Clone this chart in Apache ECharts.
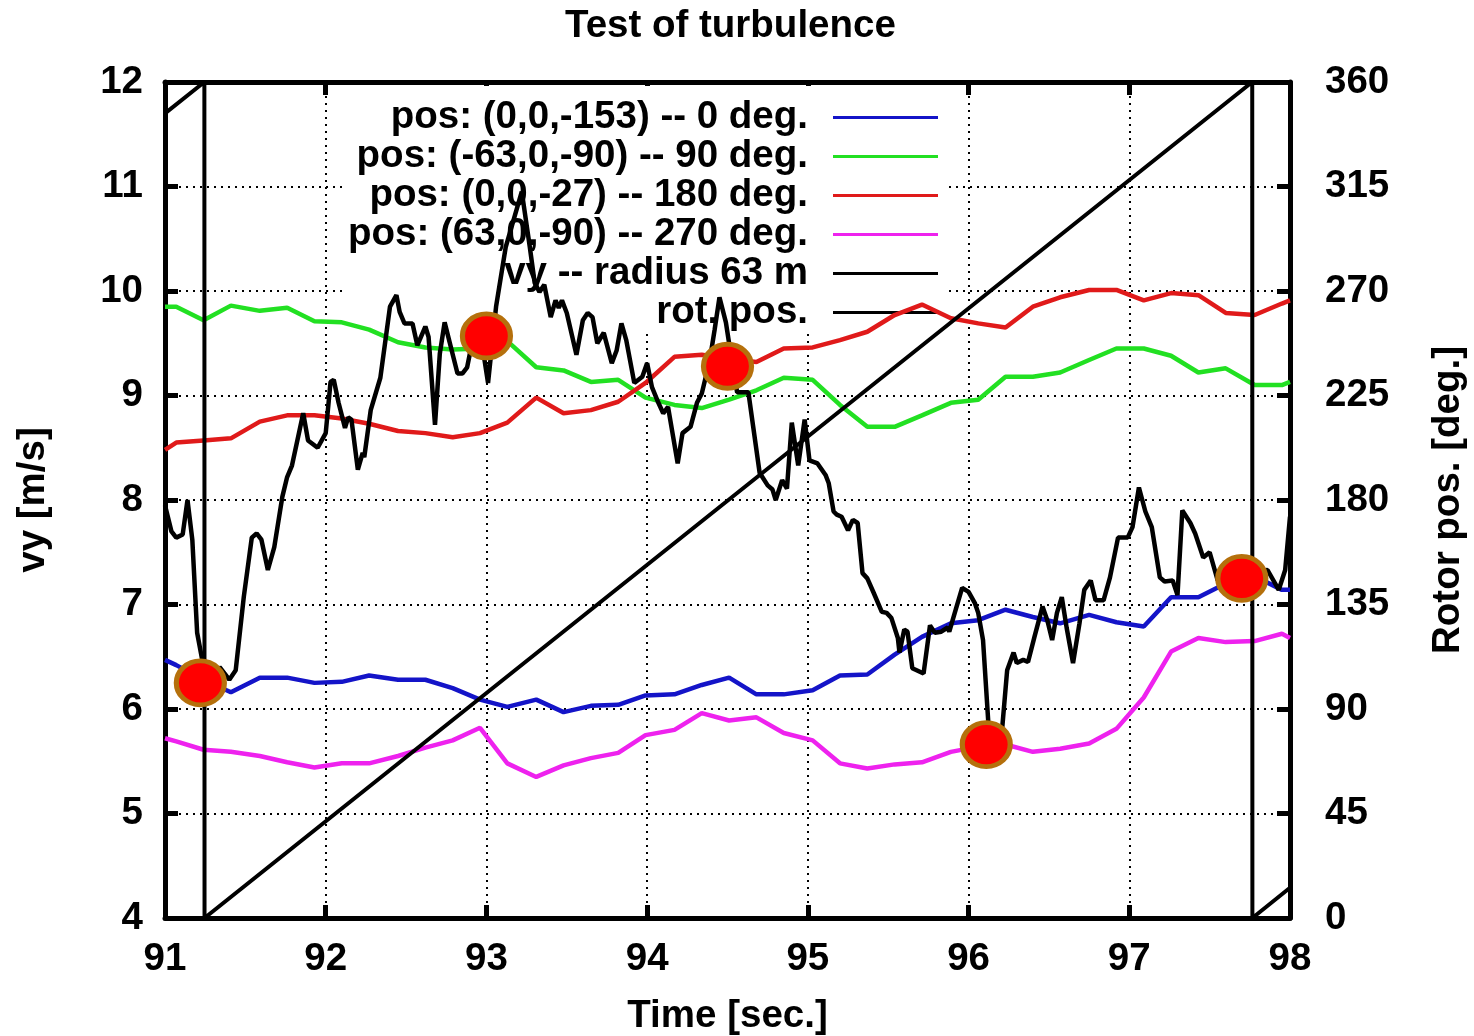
<!DOCTYPE html>
<html><head><meta charset="utf-8">
<script src="https://cdn.jsdelivr.net/npm/echarts@6/dist/echarts.min.js"></script>
<style>html,body{margin:0;padding:0;background:#fff}#c{width:1474px;height:1036px}</style>
</head><body><div id="c"></div>
<script>
// ---- data ----
const sampleTime = [91.00, 91.07, 91.24, 91.41, 91.59, 91.76, 91.93, 92.10, 92.27, 92.45, 92.62, 92.79, 92.96, 93.13, 93.31, 93.48, 93.65, 93.82, 93.99, 94.17, 94.34, 94.51, 94.68, 94.85, 95.03, 95.20, 95.37, 95.54, 95.71, 95.89, 96.06, 96.23, 96.40, 96.57, 96.75, 96.92, 97.09, 97.26, 97.43, 97.60, 97.78, 97.95, 98.00];
const pos0deg   = [6.47, 6.42, 6.28, 6.16, 6.30, 6.30, 6.25, 6.26, 6.32, 6.28, 6.28, 6.20, 6.09, 6.02, 6.09, 5.97, 6.03, 6.04, 6.13, 6.14, 6.23, 6.30, 6.14, 6.14, 6.18, 6.32, 6.33, 6.52, 6.69, 6.82, 6.85, 6.95, 6.88, 6.82, 6.90, 6.83, 6.79, 7.07, 7.07, 7.20, 7.27, 7.14, 7.14];
const pos90deg  = [9.85, 9.85, 9.72, 9.86, 9.81, 9.84, 9.71, 9.70, 9.63, 9.51, 9.46, 9.44, 9.45, 9.52, 9.27, 9.24, 9.13, 9.15, 8.98, 8.91, 8.88, 8.96, 9.05, 9.17, 9.15, 8.91, 8.70, 8.70, 8.81, 8.93, 8.96, 9.18, 9.18, 9.22, 9.34, 9.45, 9.45, 9.38, 9.22, 9.26, 9.10, 9.10, 9.13];
const pos180deg = [8.48, 8.55, 8.57, 8.59, 8.75, 8.81, 8.81, 8.78, 8.73, 8.66, 8.64, 8.60, 8.64, 8.74, 8.98, 8.83, 8.86, 8.94, 9.12, 9.37, 9.39, 9.35, 9.32, 9.45, 9.46, 9.53, 9.61, 9.77, 9.87, 9.74, 9.69, 9.65, 9.85, 9.94, 10.01, 10.01, 9.91, 9.98, 9.96, 9.79, 9.77, 9.88, 9.91];
const pos270deg = [5.72, 5.69, 5.61, 5.59, 5.55, 5.49, 5.44, 5.48, 5.48, 5.55, 5.63, 5.70, 5.82, 5.48, 5.35, 5.46, 5.53, 5.58, 5.75, 5.80, 5.96, 5.89, 5.92, 5.77, 5.70, 5.48, 5.43, 5.47, 5.49, 5.59, 5.64, 5.66, 5.59, 5.62, 5.67, 5.81, 6.11, 6.55, 6.68, 6.64, 6.65, 6.72, 6.68];

const vyTime = [91.00, 91.04, 91.07, 91.11, 91.14, 91.17, 91.20, 91.24, 91.28, 91.34, 91.40, 91.44, 91.49, 91.54, 91.57, 91.60, 91.64, 91.68, 91.73, 91.76, 91.79, 91.86, 91.89, 91.95, 92.00, 92.03, 92.05, 92.08, 92.12, 92.14, 92.16, 92.20, 92.23, 92.24, 92.28, 92.34, 92.40, 92.44, 92.46, 92.49, 92.54, 92.57, 92.62, 92.64, 92.68, 92.71, 92.74, 92.82, 92.85, 92.88, 92.91, 92.96, 93.01, 93.06, 93.12, 93.22, 93.27, 93.30, 93.33, 93.36, 93.40, 93.43, 93.45, 93.47, 93.50, 93.56, 93.60, 93.63, 93.66, 93.69, 93.73, 93.78, 93.81, 93.84, 93.87, 93.92, 93.97, 94.00, 94.03, 94.07, 94.10, 94.13, 94.19, 94.22, 94.27, 94.31, 94.34, 94.39, 94.42, 94.45, 94.49, 94.53, 94.56, 94.63, 94.66, 94.70, 94.75, 94.78, 94.80, 94.84, 94.87, 94.90, 94.94, 94.98, 95.01, 95.06, 95.11, 95.13, 95.16, 95.18, 95.21, 95.25, 95.28, 95.31, 95.34, 95.37, 95.41, 95.46, 95.49, 95.52, 95.56, 95.57, 95.60, 95.62, 95.65, 95.72, 95.76, 95.79, 95.83, 95.87, 95.88, 95.92, 95.96, 96.00, 96.04, 96.06, 96.09, 96.13, 96.18, 96.21, 96.24, 96.28, 96.30, 96.34, 96.37, 96.41, 96.46, 96.49, 96.52, 96.55, 96.58, 96.61, 96.65, 96.69, 96.72, 96.76, 96.79, 96.84, 96.88, 96.93, 96.99, 97.02, 97.06, 97.10, 97.14, 97.19, 97.22, 97.27, 97.30, 97.33, 97.38, 97.41, 97.46, 97.50, 97.55, 97.62, 97.70, 97.80, 97.86, 97.93, 97.97, 98.00];
const vyValue = [7.95, 7.70, 7.64, 7.67, 8.00, 7.62, 6.73, 6.40, 6.25, 6.40, 6.28, 6.37, 7.07, 7.64, 7.68, 7.62, 7.33, 7.55, 8.03, 8.22, 8.33, 8.83, 8.57, 8.50, 8.64, 9.13, 9.15, 8.93, 8.69, 8.79, 8.77, 8.29, 8.45, 8.41, 8.86, 9.17, 9.85, 9.96, 9.80, 9.69, 9.69, 9.48, 9.66, 9.56, 8.72, 9.40, 9.70, 9.21, 9.21, 9.27, 9.50, 9.62, 9.12, 9.85, 10.42, 10.95, 10.42, 10.08, 9.99, 10.06, 9.75, 9.91, 9.84, 9.91, 9.79, 9.39, 9.72, 9.79, 9.75, 9.50, 9.60, 9.31, 9.43, 9.69, 9.53, 9.12, 9.18, 9.31, 9.08, 8.93, 8.83, 8.89, 8.35, 8.64, 8.70, 8.93, 9.02, 9.34, 9.63, 9.94, 9.70, 9.30, 9.03, 9.03, 8.70, 8.26, 8.14, 8.10, 8.00, 8.19, 8.11, 8.74, 8.33, 8.77, 8.38, 8.35, 8.24, 8.16, 7.89, 7.86, 7.84, 7.71, 7.81, 7.78, 7.30, 7.25, 7.11, 6.93, 6.92, 6.87, 6.68, 6.54, 6.76, 6.74, 6.39, 6.34, 6.80, 6.73, 6.74, 6.78, 6.74, 6.95, 7.16, 7.12, 7.01, 6.92, 6.66, 5.70, 5.70, 5.83, 6.37, 6.54, 6.44, 6.47, 6.45, 6.69, 6.98, 6.85, 6.66, 6.92, 7.07, 6.78, 6.44, 6.82, 7.14, 7.23, 7.04, 7.04, 7.26, 7.64, 7.64, 7.74, 8.12, 7.89, 7.74, 7.26, 7.22, 7.23, 7.09, 7.90, 7.78, 7.68, 7.45, 7.50, 7.23, 7.25, 7.30, 7.32, 7.33, 7.14, 7.33, 7.84];

const rotTime  = [91.00, 91.245, 91.246, 97.765, 97.766, 98.00];
const rotAngle = [346.5, 360, 0, 360, 0, 13];

const markTime  = [91.22, 93.00, 94.50, 96.11, 97.70];
const markValue = [6.25, 9.57, 9.28, 5.66, 7.25];

const xTicks = [91, 98, 1];     // min, max, interval
const yTicks = [4, 12, 1];
const rotTicks = [0, 360, 45];

const names = ['pos: (0,0,-153) -- 0 deg.', 'pos: (-63,0,-90) -- 90 deg.', 'pos: (0,0,-27) -- 180 deg.', 'pos: (63,0,-90) -- 270 deg.', 'vy -- radius 63 m', 'rot. pos.'];

// ---- chart ----
const FONT = 'Liberation Sans';
const FS = 38.5;
const pair = (xs, ys) => xs.map((x, i) => [x, ys[i]]);
const txt = (size) => ({fontFamily: FONT, fontWeight: 'bold', fontSize: size, color: '#000'});
const axisLine = {show: true, onZero: false, lineStyle: {color: '#000', width: 5}};
const tick = {show: true, inside: true, length: 13, lineStyle: {color: '#000', width: 5}};
const grid = {show: true, lineStyle: {color: '#000', width: 2, type: [2, 5]}};

function lineSeries(name, data, color, yIdx, w) {
  return {
    name: name, type: 'line', data: data, xAxisIndex: 0, yAxisIndex: yIdx,
    symbol: 'none', showSymbol: false, z: 2, animation: false,
    lineStyle: {color: color, width: w, opacity: 1},
    itemStyle: {color: color},
    emphasis: {disabled: true}
  };
}

const chart = echarts.init(document.getElementById('c'));
chart.setOption({
  animation: false,
  backgroundColor: '#fff',
  title: {text: 'Test of turbulence', left: 560, top: 2, textStyle: Object.assign(txt(FS), {lineHeight: 38})},
  grid: {left: 165, right: 184, top: 82, bottom: 118, outerBoundsMode: 'none', containLabel: false},
  legend: {
    data: names.map(n => ({name: n, icon: 'rect'})), orient: 'vertical', align: 'right', right: 529, top: 86,
    itemWidth: 105, itemHeight: 3, itemGap: 0, padding: [12, 7, 0, 5],
    backgroundColor: '#fff', selectedMode: false, z: 1,
    textStyle: Object.assign(txt(FS), {lineHeight: 37.8, padding: [0, 20, 0, 0]})
  },
  xAxis: [
    {type: 'value', position: 'bottom', min: xTicks[0], max: xTicks[1], interval: xTicks[2],
     axisLine, axisTick: tick, splitLine: grid,
     axisLabel: Object.assign(txt(FS), {margin: 22}),
     name: 'Time [sec.]', nameLocation: 'middle', nameGap: 79, nameTextStyle: txt(FS)},
    {type: 'value', position: 'top', min: xTicks[0], max: xTicks[1], interval: xTicks[2],
     axisLine, axisTick: tick, splitLine: {show: false}, axisLabel: {show: false}}
  ],
  yAxis: [
    {type: 'value', position: 'left', min: yTicks[0], max: yTicks[1], interval: yTicks[2],
     axisLine, axisTick: tick, splitLine: grid,
     axisLabel: Object.assign(txt(FS), {margin: 22}),
     name: 'vy [m/s]', nameLocation: 'middle', nameRotate: 90, nameGap: 112, nameTextStyle: txt(FS)},
    {type: 'value', position: 'right', min: rotTicks[0], max: rotTicks[1], interval: rotTicks[2],
     axisLine, axisTick: tick, splitLine: {show: false},
     axisLabel: Object.assign(txt(FS), {margin: 35}),
     name: 'Rotor pos. [deg.]', nameLocation: 'middle', nameRotate: 90, nameGap: 139, nameTextStyle: txt(FS)}
  ],
  series: [
    lineSeries(names[0], pair(sampleTime, pos0deg), '#1414c8', 0, 4.5),
    lineSeries(names[1], pair(sampleTime, pos90deg), '#22e022', 0, 4.5),
    lineSeries(names[2], pair(sampleTime, pos180deg), '#e01a1a', 0, 4.5),
    lineSeries(names[3], pair(sampleTime, pos270deg), '#ee22ee', 0, 4.5),
    lineSeries(names[4], pair(vyTime, vyValue), '#000000', 0, 4.5),
    lineSeries(names[5], pair(rotTime, rotAngle), '#000000', 1, 4),
    {name: 'markers', type: 'scatter', data: pair(markTime, markValue), xAxisIndex: 0, yAxisIndex: 0,
     symbol: 'circle', symbolSize: [48, 44], z: 5,
     itemStyle: {color: '#ff0000', borderColor: '#b5700c', borderWidth: 5, opacity: 1}}
  ]
});
</script></body></html>
